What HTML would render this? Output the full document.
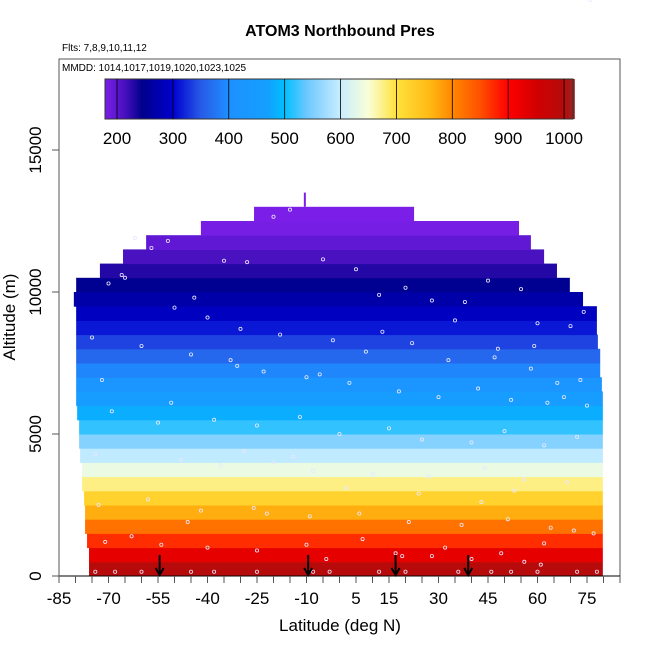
<!DOCTYPE html>
<html><head><meta charset="utf-8"><style>
html,body{margin:0;padding:0;background:#fff;}
svg{display:block;font-family:"Liberation Sans",Arial,sans-serif;}
</style></head><body>
<svg id="chart" width="650" height="650" viewBox="0 0 650 650">
<text x="340" y="36" text-anchor="middle" font-size="16" font-weight="bold">ATOM3 Northbound Pres</text>
<text x="62" y="51" font-size="10">Flts: 7,8,9,10,11,12</text>
<rect x="59" y="59" width="561" height="517" fill="none" stroke="#555" stroke-width="1"/>
<text x="62" y="71" font-size="10">MMDD: 1014,1017,1019,1020,1023,1025</text>
<g id="bands"></g>
<g id="pts"></g>
<g id="arrows"></g>
<g id="cbar"></g>
<g id="axes"></g>
<text x="340" y="631" text-anchor="middle" font-size="17">Latitude (deg N)</text>
<text transform="translate(15,317) rotate(-90)" text-anchor="middle" font-size="17">Altitude (m)</text>
</svg>
<script>
const bandBottoms=[0,500,1000,1500,2000,2500,3000,3500,4000,4500,5000,5500,6000,6500,7000,7500,8000,8500,9000,9500,10000,10500,11000,11500,12000,12500];
const bandLeft=[-75.9,-75.9,-76.5,-77.1,-77.1,-77.4,-78,-78,-78.6,-78.9,-78.9,-79.5,-79.8,-79.8,-79.8,-79.8,-79.8,-79.8,-79.8,-80.5,-79.8,-72.6,-65.6,-58.6,-42,-25.9];
const bandRight=[79.8,79.8,79.8,79.8,79.8,79.8,79.8,79.8,79.8,79.8,79.8,79.8,79.8,79.5,79,79,78.3,78,78,73.8,69.8,65.9,62,58,54.4,22.6];
const bandPres=[995,927,872,820,770,723,677,635,594,555,518,484,451,420,391,363,337,313,290,269,249,230,212,196,181,170];
const cbarTicks=[200,300,400,500,600,700,800,900,1000];
const xTickLabels=[-85,-70,-55,-40,-25,-10,5,15,30,45,60,75];
const yTicks=[0,5000,10000,15000];
const arrowLats=[-54.5,-9.5,17,39];
const ptLat=[-62,-57,-52,-35,-28,-20,-15,-5,5,12,20,28,38,45,55,60,70,-70,-65,-50,-40,-30,-18,-2,8,22,33,48,58,66,73,-75,-60,-45,-33,-23,-10,3,18,30,42,52,63,75,-72,-55,-38,-25,-12,0,15,25,40,50,62,72,-74,-48,-36,-20,-8,10,27,44,56,69,-73,-58,-42,-26,-9,6,21,37,51,64,77,-71,-54,-40,-25,-10,7,17,28,40,56,62,74,-66,-44,-31,-6,13,35,47,59,68,-69,-51,-29,-14,2,24,43,53,71,-63,-46,-22,-4,19,32,49,61,76];
const ptAlt=[11900,11550,11800,11100,11050,12650,12900,11150,10800,9900,10150,9700,9650,10400,10100,8900,8800,10300,10500,9450,9100,8700,8500,8300,7900,8200,7600,8000,7300,6800,6900,8400,8100,7800,7600,7200,7000,6800,6500,6300,6600,6200,6100,6000,6900,5400,5500,5300,5600,5000,5200,4800,4700,5100,4600,4900,4300,4100,3900,4000,3700,3600,3500,3800,3400,3300,2500,2700,2300,2400,2100,2200,1900,1800,2000,1700,1500,1200,1100,1000,900,1100,1300,800,700,600,500,1150,9300,10600,9800,7400,7100,8600,9000,7700,8100,6300,5800,6100,4400,4200,3100,2900,2600,3000,1600,1400,1900,2200,600,700,1000,800,400];
const ptLatBottom=[-74,-68,-60,-45,-38,-25,-8,-3,12,20,36,46,52,60,72,78];

const X0=59,X1=620,LAT0=-85,LAT1=85,Y0=576,PXM=426/15000;
const sx=l=>X0+(l-LAT0)*(X1-X0)/(LAT1-LAT0);
const sy=a=>Y0-a*PXM;
const NS='http://www.w3.org/2000/svg';
function mk(tag,parent){const e=document.createElementNS(NS,tag);parent.appendChild(e);return e;}
const stops=[[178,[123,31,232]],[215,[70,16,190]],[245,[0,0,140]],[300,[0,0,205]],[350,[40,90,230]],[400,[30,144,255]],[470,[20,160,255]],[500,[0,191,255]],[540,[110,200,255]],[600,[200,238,255]],[650,[250,255,215]],[700,[255,225,60]],[760,[255,185,20]],[800,[255,136,0]],[850,[255,80,0]],[900,[255,0,0]],[950,[210,0,0]],[1000,[180,12,12]],[1016,[160,32,32]]];
function col(p){
  if(p<=stops[0][0])return 'rgb('+stops[0][1]+')';
  for(let i=1;i<stops.length;i++){if(p<=stops[i][0]){const a=stops[i-1],b=stops[i],t=(p-a[0])/(b[0]-a[0]);
    return 'rgb('+a[1].map((v,k)=>Math.round(v+(b[1][k]-v)*t)).join(',')+')';}}
  return 'rgb('+stops[stops.length-1][1]+')';
}
const bands=document.getElementById('bands');
bandBottoms.forEach((b,i)=>{
  const r=mk('rect',bands);
  
  
  r.setAttribute('x',sx(bandLeft[i]));r.setAttribute('width',sx(bandRight[i])-sx(bandLeft[i]));
  r.setAttribute('y',sy(b+500));r.setAttribute('height',sy(b)-sy(b+500)+0.5);
  r.setAttribute('fill',col(bandPres[i]));
});
const sp=mk('rect',bands);


sp.setAttribute('x',sx(-10.5)-1);sp.setAttribute('width',2);sp.setAttribute('y',sy(13500));sp.setAttribute('height',sy(13000)-sy(13500));sp.setAttribute('fill',col(165));
const pts=document.getElementById('pts');
function pt(l,a){const c=mk('circle',pts);
  
  
  c.setAttribute('cx',sx(l));c.setAttribute('cy',sy(a));c.setAttribute('r',1.6);c.setAttribute('fill','none');c.setAttribute('stroke','#e8e8ff');c.setAttribute('stroke-width','0.8');}
ptLat.forEach((l,i)=>pt(l,ptAlt[i]));
ptLatBottom.forEach(l=>pt(l,150));
const ar=document.getElementById('arrows');
arrowLats.forEach(l=>{const p=mk('path',ar);
  
  
  const x=sx(l);p.setAttribute('d',`M${x},${Y0-21}V${Y0-1}M${x-4},${Y0-8}L${x},${Y0-1}L${x+4},${Y0-8}`);
  p.setAttribute('stroke','#000');p.setAttribute('stroke-width','2');p.setAttribute('fill','none');});
const cb=document.getElementById('cbar');
const CB0=105,CB1=573,P0=178.5,P1=1016,cx=p=>CB0+(p-P0)*(CB1-CB0)/(P1-P0);
for(let p=P0;p<P1;p+=3){const r=mk('rect',cb);
  
  
  r.setAttribute('x',cx(p));r.setAttribute('width',cx(p+3)-cx(p)+0.4);r.setAttribute('y',79);r.setAttribute('height',40);r.setAttribute('fill',col(p+1.5));}
const fr=mk('rect',cb);
fr.setAttribute('x',CB0);fr.setAttribute('y',79);fr.setAttribute('width',CB1-CB0);fr.setAttribute('height',40);fr.setAttribute('fill','none');fr.setAttribute('stroke','#333');
cbarTicks.forEach(v=>{const l=mk('line',cb);
  l.setAttribute('x1',cx(v));l.setAttribute('x2',cx(v));l.setAttribute('y1',79);l.setAttribute('y2',119);l.setAttribute('stroke','#000');l.setAttribute('stroke-width','0.8');
  const t=mk('text',cb);
  t.setAttribute('x',cx(v));t.setAttribute('y',144);t.setAttribute('text-anchor','middle');t.setAttribute('font-size','17');t.textContent=v;});
const ax=document.getElementById('axes');
const xl=mk('line',ax);
xl.setAttribute('x1',X0);xl.setAttribute('x2',X1);xl.setAttribute('y1',Y0);xl.setAttribute('y2',Y0);xl.setAttribute('stroke','#000');
for(let l=-85;l<=85;l+=5){const t=mk('line',ax);
  t.setAttribute('x1',sx(l));t.setAttribute('x2',sx(l));t.setAttribute('y1',Y0);t.setAttribute('y2',Y0+7);t.setAttribute('stroke','#555');}
xTickLabels.forEach(l=>{const t=mk('text',ax);
  t.setAttribute('x',sx(l));t.setAttribute('y',604);t.setAttribute('text-anchor','middle');t.setAttribute('font-size','17');t.textContent=l;});
const yl=mk('line',ax);
yl.setAttribute('x1',X0);yl.setAttribute('x2',X0);yl.setAttribute('y1',Y0);yl.setAttribute('y2',sy(15000));yl.setAttribute('stroke','#555');
yTicks.forEach(v=>{const t=mk('line',ax);
  t.setAttribute('x1',X0-7);t.setAttribute('x2',X0);t.setAttribute('y1',sy(v));t.setAttribute('y2',sy(v));t.setAttribute('stroke','#555');
  const s=mk('text',ax);
  s.setAttribute('transform',`translate(41,${sy(v)}) rotate(-90)`);s.setAttribute('text-anchor','middle');s.setAttribute('font-size','17');s.textContent=v;});
</script>
</body></html>
